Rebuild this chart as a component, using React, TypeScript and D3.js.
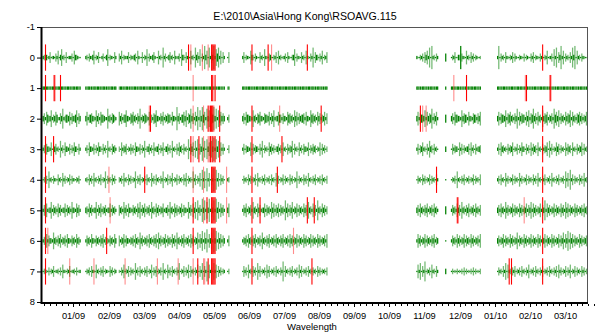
import React from 'react'
import * as d3 from 'd3'

const title = 'E:\\2010\\Asia\\Hong Kong\\RSOAVG.115'
const xTitle = 'Wavelength'
const rowTicks = [-1, 0, 1, 2, 3, 4, 5, 6, 7, 8]
const monthLabels = ['01/09', '02/09', '03/09', '04/09', '05/09', '06/09', '07/09', '08/09', '09/09', '10/09', '11/09', '12/09', '01/10', '02/10', '03/10']
// day index of each month label
const monthDays = [27.3, 57.7, 88.2, 118.6, 149.0, 179.5, 209.9, 240.3, 270.8, 301.2, 331.6, 362.0, 392.5, 422.9, 453.3]

// first day of each recorded stretch
const segStarts = [1, 38, 174, 325, 350, 355, 395]

// one char per day: digit = dark green level, letter a..i = light green level 1..9, space = no data
const row0 = [
  '2c13a2e1b21d2f13g2c1e1b22d1f3c2a1',
  '2c1d2b3f1c2e1a2d1b3g1c2b1e2  d2f1c2b2e1c2b3d1f2a1e1c2g1d2b3e2a1f2c1h2d1b3e2c1f2a2d1g3c1e2b1f2c1h3e2g1d2i3f1h2e3i2g4h2f1e2  1e',
  '2e1c2b1f3c1d2a1e2c1g2b1d3a1c2e1f2c1b2d1e2a1c3g1d2b1e2c1f2b1d2h1e3c1d2f1c2e',
  '2a1c2d1e3f2h1i2c1d2',
  '4',
  '1c2e1a3c9d2b1f2c1e2d1c2a1b',
  '2i1d2c1e2b1c2e1d2a1c2b1d1c2a1d2e1c2b1d2a1c2f1b2d1g2h1e3i2f1d2c1e2h3i1f2c1d2b1a',
]
const row1 = [
  '22b22b2b22b2b22b22b2b22b2b22b22b2',
  '2b22b2b22b22b2b22b2b2b22b22  b22b2b22b2b2b22b2b22b22b2b22b2b2b22b2b22b22b2b22b2b2b22b2b22b22b2b22b2b2b22b2b22b22b2b22b2b2  b2',
  '22b2b22b2b2b22b2b22b22b2b22b2b2b22b2b22b22b2b22b2b2b22b2b22b22b2b22b2b2b22',
  '22b2b22b2b2b22b2b22',
  '2',
  '22b2b22b2b2b22b2b22b22b2b2',
  '22b2b22b2b2b22b2b22b22b2b22b2b2b22b2b22b22b2b22b2b2b22b2b22b22b2b22b2b2b22b2b2',
]
const row2 = [
  '3e2f4c3g2d3f4b2e3h2c4d3f2e3c4g2e3',
  '3f2d4e3c2g3e2f4d3b2h3d2e4c2  f3e2d4g3c2e4f3d2e3h2d3e4c2f3d2e4g3c2e3f2d3e4d2f3c2i3e2d4f3g2e4h3e2f3i2g3i4f2h3g2e4i3h2g4f3e3  2d',
  '3e2f4d3c2g3d2e4f3c2e4d3f2e3g2c3f4d2e3c2f4e3d2g3f2e3d4e2f3c2g4e3d2f3e2d3f2e',
  '3f2e4d3g2f3e4h2e3f2',
  '4',
  '3e2f4d3c2g3e4d2f3c2e4d2e3f',
  '3f2e4d3g2e4f3d2e3h2f3e4d2f3g2e4h3e2f3d2g3e4f2d3e2h4f3g2e3d2f3e4g2f3d2e4f3e2d3f',
]
const row3 = [
  '2d1e3c2f1d3e2c1g2d1f3c2e1d2f3c1e2',
  '2d1f3c2e1d2f3c1e2d1g2c1e3d2  c1f2d3e1c2e2d1f3c2e1d2g1c3e2d1f2c3e1d2f1c3e2d1g2c1e2f3d1e2c1h2e3f1g2h1e3i2g1h3f2g3i2h3g1f2e2  1d',
  '2e1d3c2f1e2d3c1e2g1d2c1f3e2d1c3e2d1f2c1e2d3g1e2c1f2d1e3c2f1d2e3d1c2f1e2d1c',
  '2e1d3f2c1e2g3d1e2c1',
  '3',
  '1e2d3c1f2e1d2c3e1f2d1e2c3d',
  '2e1f3d2c1e2d3f1c2e1d2f3c1e2d1f2e3d1f2c1e2d3f1g2e1c2f3e1d2c1f2e3d1f2c1e2d3f1e2c',
]
const row4 = [
  '1c2d1g2c1d2b1e2c1f2d1c2e1d2b1c2d1',
  '2c1e2d1f2c1d2e1c2g1d2c1e2d1  c2d1f2c1e2d1c2g1d2e1c2d1e2c1f2d1e2c1d2g1c2e1d2f1c2e1d2c1e2f1d2c1g2e1d2f1h2g1i2f1e2i1h2f1e2d1  2c',
  '1d2c1e2d1c2e1f2c1d2e1c2d1e2c1f2d1c2e1d2c1e2d1c2g1d2c1e2d1f2c1d2e1c2d1e2c1d',
  '1d2c1e2d1c2e1d2c1e2',
  '1',
  '1c2d1g2c1d2e1c2d1c2e1d2c1e',
  '2d1e2c1f2d1c2e1d2c1f2d1c2e1d2c1e2d1f2c1d2e1c2d1f2c1d2e1c2d1g2f1h2e1d2c1e2d1f2c',
]
const row5 = [
  '2e3f2c3g2e3d2f3e2c3f2e3d2g3c2f3e2',
  '3d2f3e2c3g2e3f2d3e2c3f2e3d2  e3d2g3e2f3c2e3d2f3g2e3f2d3e2g3d2f3e2d3f2c3e2g3d2f3e2d3f2e3c2g3e2f3g2h3e2i3h2g3i2f3h2i3g2f3e2  3f',
  '2e3f2d3e2g3d2f3e2c3f2e3d2g3f2e3f2e3d2h3f2e3g2d3f2e3d2f3e2g3d2f3e2h3d2f3e2d',
  '3e2f3d2e3f2d3e2f3d2',
  '4',
  '2e3d2f3e2g3d2e3f2d3e2f3d2e',
  '3e2f3d2g3e2d3f2e3d2f3e2d3f2e3g2f3e2d3f2e3h2f3e2d3f2e3d2f3e2g3f2e3d2f3e2d3e2f3d',
]
const row6 = [
  '2d3f2e3c2g3d2e3f2d3e2f3c2e3d2f3d2',
  '2e3d2f3c2e3d2e3f2d3c2e3d2f3  e2d3f2e3c2d3e2f3d2g3e2d3e2f3d2e3f2g3e2d3f2e3d2f3e2g3d2e3f2d3e2f3e2d3g2f3h2g3i2f3g2i3h2g3f2e3  2e',
  '2d3e2f3d2e3f2d3e2g3d2e3f2d3e2f3d2e3f2d3e2f3e2d3f2e3d2f3e2d3f2e3d2f3e2d3e2f',
  '2f3e2d3f2e3d2e3f2d3',
  '1',
  '2e3d2f3e2d3f2e3d2f3e2d3e2f',
  '3e2d3f2e3d2f3e2d3g2e3d2f3e2d3f2e3d2f3e2d3f2e3d2f3e2d3f2e3g2f3h2g3f2e3d2f3e2d3e',
]
const row7 = [
  '1c2b1d1c2e1b2c1d1f2b1c2e1b2c1d1b2',
  '1c2d1e2b1f2c1d2e1c2b1e2d1c2  b1d2f1c2e1d2c1g2d1e2c1d2e1c2f1d2e1c2d1g2c1f2d1e2c1d2g1c2e1d2f1e2c1d2f1e2g1e2h1f2d1g2f1e2d1c2  1c',
  '1e2d1f2c1e2d1g2e1c2d1f2e1c2d1e2c1d2h1e2c1d2e1c2d1f2e1c2d1e2c1d2c1e2d1c2c1d',
  '1f2g1e2h1c2d1f2c1e2',
  '3',
  '1c1b1c1b1c1d1c1b1c1d1c1b1c',
  '1d2c1e2g1f2c1d2e1c2d1e2c1d2f1c2d1e2c1d2e1c2d1e2c1d2e1f2d1c2e1d2f1c2e1d2c1e2d1c',
]
const rows = [row0, row1, row2, row3, row4, row5, row6, row7]

// [row, day]
const redBright = [
  [0, 3], [0, 127], [0, 147], [0, 148], [0, 149], [0, 150], [0, 182], [0, 196], [0, 230], [0, 434],
  [1, 3], [1, 11], [1, 16], [1, 147], [1, 148], [1, 150], [1, 368], [1, 420], [1, 441],
  [2, 94], [2, 144], [2, 146], [2, 147], [2, 148], [2, 154], [2, 182], [2, 242], [2, 328], [2, 434],
  [3, 3], [3, 10], [3, 129], [3, 136], [3, 146], [3, 148], [3, 150], [3, 154], [3, 182], [3, 208], [3, 434],
  [4, 3], [4, 89], [4, 147], [4, 148], [4, 149], [4, 150], [4, 182], [4, 204], [4, 342], [4, 434],
  [5, 3], [5, 131], [5, 143], [5, 147], [5, 148], [5, 149], [5, 150], [5, 182], [5, 189], [5, 230], [5, 236], [5, 360], [5, 434],
  [6, 3], [6, 56], [6, 131], [6, 147], [6, 148], [6, 149], [6, 150], [6, 182], [6, 434],
  [7, 3], [7, 135], [7, 144], [7, 147], [7, 148], [7, 149], [7, 150], [7, 182], [7, 234], [7, 405], [7, 407], [7, 434],
]
const redLight = [
  [0, 129], [0, 139], [0, 144], [0, 199],
  [1, 10], [1, 131], [1, 357], [1, 419], [1, 440],
  [2, 93], [2, 131], [2, 140], [2, 145], [2, 149], [2, 206], [2, 330], [2, 333],
  [3, 131], [3, 140], [3, 144], [3, 145], [3, 147], [3, 149],
  [4, 58], [4, 131], [4, 140], [4, 160],
  [5, 59], [5, 140], [5, 160], [5, 361], [5, 418],
  [6, 5], [6, 218],
  [7, 24], [7, 45], [7, 72], [7, 100], [7, 118], [7, 131], [7, 140], [7, 141],
]

const W = 597
const H = 333
const font = 'Liberation Sans, Arial, sans-serif'

const App = () => {
  const x = d3.scaleLinear().domain([0, 472.5]).range([42, 587])
  const y = d3.scaleLinear().domain([-1, 8]).range([27, 302])
  // half height of a day's tick, in row units
  const half = d3.scalePow().exponent(1.3).domain([0, 9]).range([0, 0.38])

  const bars = []
  rows.forEach((segs, r) => {
    segs.forEach((s, k) => {
      for (let i = 0; i < s.length; i++) {
        const c = s[i]
        if (c === ' ') continue
        const light = c >= 'a'
        const level = light ? c.charCodeAt(0) - 96 : +c
        bars.push({ r, day: segStarts[k] + i, level, light })
      }
    })
  })

  const minor = []
  monthDays.forEach((d, i) => {
    const step = (i + 1 < monthDays.length ? monthDays[i + 1] - d : monthDays[i] - monthDays[i - 1]) / 6
    d3.range(1, 6).forEach((j) => minor.push(d + j * step))
  })
  d3.range(1, 6).forEach((j) => minor.push(monthDays[0] - j * (monthDays[1] - monthDays[0]) / 6))

  const greenBar = (b, i) => {
    const h = half(b.level)
    return (
      <rect
        key={i}
        x={x(b.day) - 0.6}
        width={1.25}
        y={y(b.r - h)}
        height={Math.max(1, y(b.r + h) - y(b.r - h))}
        fill='#008000'
        fillOpacity={b.light ? 0.55 : 1}
      />
    )
  }
  const redBar = (color) => ([r, d], i) => (
    <rect
      key={i}
      x={x(d) - 0.5}
      width={1.1}
      y={y(r - 0.43)}
      height={y(r + 0.43) - y(r - 0.43)}
      fill={color}
    />
  )

  return (
    <svg width={W} height={H} style={{ position: 'absolute', left: 0, top: 0, background: '#fff' }} fontFamily={font}>
      <rect width={W} height={H} fill='#fff' />
      <text x={305} y={19.5} fontSize={10.6} textAnchor='middle'>{title}</text>

      {/* frame */}
      <line x1={42} x2={587} y1={27.5} y2={27.5} stroke='#555' />
      <line x1={587.5} x2={587.5} y1={27} y2={303} stroke='#555' />

      <g>
        {bars.filter((b) => b.light).map(greenBar)}
        {bars.filter((b) => !b.light).map(greenBar)}
      </g>
      <g>
        {redLight.map(redBar('rgba(255,0,0,0.45)'))}
        {redBright.map(redBar('#ff0000'))}
      </g>

      {/* y axis */}
      <line x1={41.5} x2={41.5} y1={27} y2={304} stroke='#000' strokeWidth={2} />
      {rowTicks.map((t) => (
        <g key={t} transform={`translate(0,${y(t)})`}>
          <line x1={37} x2={41} y1={0.5} y2={0.5} stroke='#000' />
          <text x={35} y={3.3} fontSize={9.3} textAnchor='end'>{t}</text>
        </g>
      ))}

      {/* x axis */}
      <line x1={41} x2={588} y1={303} y2={303} stroke='#000' strokeWidth={2} />
      {minor.map((d, i) => (
        <line key={i} x1={Math.round(x(d)) + 0.5} x2={Math.round(x(d)) + 0.5} y1={304} y2={306} stroke='#000' />
      ))}
      {monthDays.map((d, i) => (
        <g key={i} transform={`translate(${Math.round(x(d)) + 0.5},0)`}>
          <line y1={304} y2={307} stroke='#000' />
          <text y={319} fontSize={9.3} textAnchor='middle'>{monthLabels[i]}</text>
        </g>
      ))}
      <text x={312} y={329.5} fontSize={9.5} textAnchor='middle'>{xTitle}</text>
    </svg>
  )
}

export default App
